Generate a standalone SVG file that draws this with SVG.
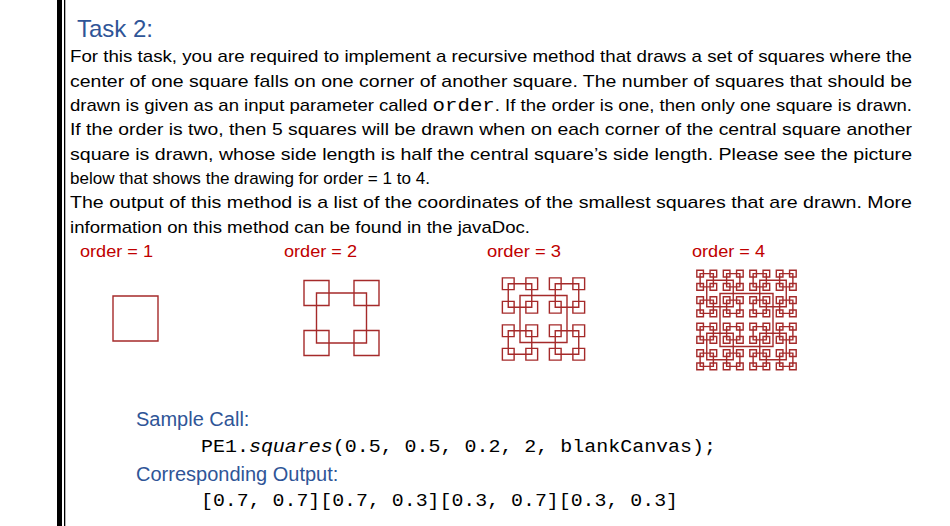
<svg xmlns="http://www.w3.org/2000/svg" xmlns:xlink="http://www.w3.org/1999/xlink" width="950" height="526" viewBox="0 0 950 526">
<style>
.b{font-family:"Liberation Sans",Arial,sans-serif;font-size:17px;fill:#000}
.h{font-family:"Liberation Sans",Arial,sans-serif;fill:#2f5597}
.o{font-family:"Liberation Sans",Arial,sans-serif;font-size:17px;fill:#c00000}
.m{font-family:"Liberation Mono","Courier New",monospace;font-size:19px;fill:#000}
.sq rect{fill:none;stroke:#a52a2a;stroke-width:1.4;vector-effect:non-scaling-stroke}
</style>
<defs>
<g id="o1" class="sq"><rect x="-0.5" y="-0.5" width="1" height="1"/></g>
<g id="o2"><use xlink:href="#o1"/><use xlink:href="#o1" transform="translate(-0.5,-0.5) scale(0.5)"/><use xlink:href="#o1" transform="translate(0.5,-0.5) scale(0.5)"/><use xlink:href="#o1" transform="translate(-0.5,0.5) scale(0.5)"/><use xlink:href="#o1" transform="translate(0.5,0.5) scale(0.5)"/></g>
<g id="o3"><use xlink:href="#o1"/><use xlink:href="#o2" transform="translate(-0.5,-0.5) scale(0.5)"/><use xlink:href="#o2" transform="translate(0.5,-0.5) scale(0.5)"/><use xlink:href="#o2" transform="translate(-0.5,0.5) scale(0.5)"/><use xlink:href="#o2" transform="translate(0.5,0.5) scale(0.5)"/></g>
<g id="o4"><use xlink:href="#o1"/><use xlink:href="#o3" transform="translate(-0.5,-0.5) scale(0.5)"/><use xlink:href="#o3" transform="translate(0.5,-0.5) scale(0.5)"/><use xlink:href="#o3" transform="translate(-0.5,0.5) scale(0.5)"/><use xlink:href="#o3" transform="translate(0.5,0.5) scale(0.5)"/></g>
</defs>
<rect width="950" height="526" fill="#fff"/>
<rect x="57" y="0" width="5" height="526" fill="#000"/>
<rect x="64" y="0" width="1.3" height="526" fill="#000"/>
<text class="h" x="77" y="37" font-size="24">Task 2:</text>
<text class="b" x="70" y="62" textLength="842" lengthAdjust="spacingAndGlyphs">For this task, you are required to implement a recursive method that draws a set of squares where the</text>
<text class="b" x="70" y="87" textLength="842" lengthAdjust="spacingAndGlyphs">center of one square falls on one corner of another square. The number of squares that should be</text>
<text class="b" x="70" y="111" textLength="842" lengthAdjust="spacingAndGlyphs">drawn is given as an input parameter called <tspan class="m" font-size="18">order</tspan>. If the order is one, then only one square is drawn.</text>
<text class="b" x="70" y="135" textLength="842" lengthAdjust="spacingAndGlyphs">If the order is two, then 5 squares will be drawn when on each corner of the central square another</text>
<text class="b" x="70" y="160" textLength="842" lengthAdjust="spacingAndGlyphs">square is drawn, whose side length is half the central square’s side length.    Please see the picture</text>
<text class="b" x="70" y="184" textLength="360" lengthAdjust="spacingAndGlyphs">below that shows the drawing for order = 1 to 4.</text>
<text class="b" x="70" y="208" textLength="842" lengthAdjust="spacingAndGlyphs">The output of this method is a list of the coordinates of the smallest squares that are drawn. More</text>
<text class="b" x="70" y="233" textLength="460" lengthAdjust="spacingAndGlyphs">information on this method can be found in the javaDoc.</text>
<g id="fig1"><text class="o" x="80" y="257" textLength="73" lengthAdjust="spacingAndGlyphs">order = 1</text><use xlink:href="#o1" transform="translate(135.5,318.5) scale(45)"/></g>
<g id="fig2"><text class="o" x="284" y="257" textLength="73" lengthAdjust="spacingAndGlyphs">order = 2</text><use xlink:href="#o2" transform="translate(341.5,318) scale(50)"/></g>
<g id="fig3"><text class="o" x="487" y="257" textLength="74" lengthAdjust="spacingAndGlyphs">order = 3</text><use xlink:href="#o3" transform="translate(543.5,319) scale(47)"/></g>
<g id="fig4"><text class="o" x="692" y="257" textLength="73" lengthAdjust="spacingAndGlyphs">order = 4</text><use xlink:href="#o4" transform="translate(746.5,320) scale(53)"/></g>
<text class="h" x="136" y="426" font-size="20">Sample Call:</text>
<text class="m" x="201" y="452" textLength="515" lengthAdjust="spacingAndGlyphs">PE1.<tspan font-style="italic">squares</tspan>(0.5, 0.5, 0.2, 2, blankCanvas);</text>
<text class="h" x="136" y="481" font-size="20">Corresponding Output:</text>
<text class="m" x="201" y="506" textLength="477" lengthAdjust="spacingAndGlyphs">[0.7, 0.7][0.7, 0.3][0.3, 0.7][0.3, 0.3]</text>
</svg>
